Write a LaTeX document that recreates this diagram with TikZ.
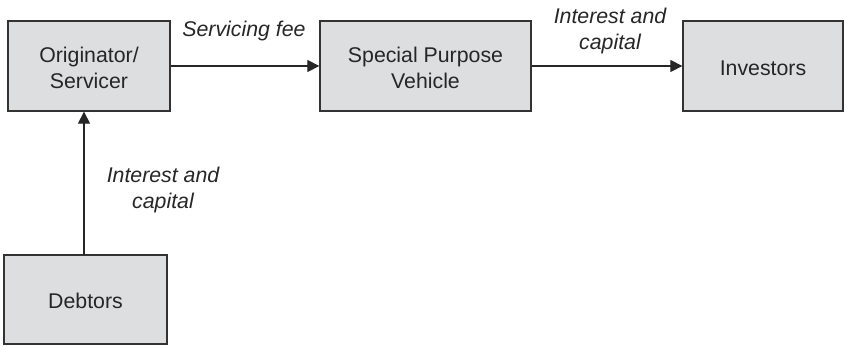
\documentclass[tikz,border=0pt]{standalone}
\usepackage{fontspec}
\setmainfont{Liberation Sans}
\usetikzlibrary{arrows.meta}
\definecolor{boxfill}{HTML}{DDDEE0}
\definecolor{boxline}{HTML}{333333}
\newcommand\boxstrut{\rule{0pt}{19pt}}
\tikzset{
  box/.style={draw=boxline, line width=1.3pt, fill=boxfill, minimum height=90pt, inner sep=0pt, align=center, font=\fontsize{21.3}{26}\selectfont, text=black!85},
  flow/.style={line width=1.2pt, draw=black!85, -{Triangle[length=12pt,width=12pt]}},
  lbl/.style={font=\fontsize{21.3}{26}\selectfont\itshape, align=center, text=black!85, inner sep=0pt}
}
\begin{document}
\begin{tikzpicture}[x=1pt,y=-1pt]
\useasboundingbox (0,0) rectangle (845,346);
\node[box, minimum width=162pt] (orig) at (89,66) {\boxstrut Originator/\\Servicer};
\node[box, minimum width=211pt] (spv) at (425.5,66) {\boxstrut Special Purpose\\Vehicle};
\node[box, minimum width=160pt] (inv) at (763,66) {\boxstrut Investors};
\node[box, minimum width=163pt, minimum height=89pt] (deb) at (85.5,299.5) {\boxstrut Debtors};
\draw[flow] (orig.east) -- (spv.west);
\draw[flow] (spv.east) -- (inv.west);
\coordinate (up) at (84,255);
\draw[flow] (up) -- (up |- orig.south);
\node[lbl, anchor=base] (l1) at (244,36) {Servicing fee};
\node[lbl, anchor=base] (l2) at (610,49) {Interest and\\capital};
\node[lbl, anchor=base] (l3) at (163,208) {Interest and\\capital};
\end{tikzpicture}
\end{document}
